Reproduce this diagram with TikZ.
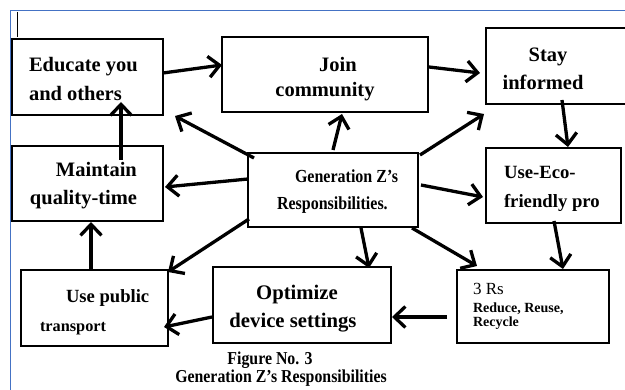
\documentclass[tikz,border=0pt]{standalone}
\usepackage{fontspec}
\setmainfont{Liberation Serif}
\newfontfamily\condfont[FakeStretch=0.87]{Liberation Serif}
\usetikzlibrary{arrows.meta,calc}
\definecolor{frameblue}{RGB}{68,114,196}
\newcommand{\fsz}[1]{\fontsize{#1}{#1}\selectfont}
\tikzset{
  box/.style={draw=black, line width=1.5pt, rectangle, inner sep=0pt, outer sep=0pt, anchor=north west},
  conn/.style={line width=3.3pt, -{Straight Barb[length=11pt,width=21pt]}},
  txt/.style={inner sep=0pt, outer sep=0pt, anchor=base west},
  ctxt/.style={inner sep=0pt, outer sep=0pt, anchor=base},
}
\begin{document}
\begin{tikzpicture}[x=1pt,y=-1pt]
\useasboundingbox (0,0) rectangle (625,390);
\fill[white] (0,0) rectangle (625,390);
% page frame and cursor
\draw[frameblue, line width=1.8pt] (10.5,400) -- (10.5,10.5) -- (640,10.5);
\draw[line width=1pt] (17,12) -- (17,37);

% boxes
\node[box, minimum width=151pt, minimum height=76pt] (edu) at (12,39) {};
\node[box, minimum width=206pt, minimum height=75pt] (join) at (222,37) {};
\node[box, minimum width=145pt, minimum height=76pt] (stay) at (486,28) {};
\node[box, minimum width=151pt, minimum height=75pt] (maint) at (12,146) {};
\node[box, minimum width=170pt, minimum height=74pt] (gen) at (248,153) {};
\node[box, minimum width=135pt, minimum height=75pt] (eco) at (486,148) {};
\node[box, minimum width=147pt, minimum height=76pt] (pub) at (21,270) {};
\node[box, minimum width=178pt, minimum height=76pt] (opt) at (213,267) {};
\node[box, minimum width=152pt, minimum height=73pt] (rs) at (457,270) {};

% texts
\node[txt, font={\fsz{20.5}\bfseries}] (edu1) at (29,72) {Educate you};
\node[txt, font={\fsz{20.5}\bfseries}] (edu2) at (29,101) {and others};
\node[ctxt, font={\fsz{20.5}\bfseries}] (join1) at (338,72) {Join};
\node[ctxt, font={\fsz{20.5}\bfseries}] (join2) at (325,97) {community};
\node[ctxt, font={\fsz{20.5}\bfseries}] (stay1) at (548,62) {Stay};
\node[ctxt, font={\fsz{20.5}\bfseries}] (stay2) at (543,90) {informed};
\node[txt, font={\fsz{20.5}\bfseries}] (maint1) at (56,177) {Maintain};
\node[txt, font={\fsz{20.5}\bfseries}] (maint2) at (30,205) {quality-time};
\node[txt, font={\condfont\fsz{18.4}\bfseries}] (gen1) at (295,183) {Generation Z’s};
\node[txt, font={\condfont\fsz{18.4}\bfseries}] (gen2) at (277,210) {Responsibilities.};
\node[txt, font={\fsz{18.7}\bfseries}] (eco1) at (504,179) {Use-Eco-};
\node[txt, font={\fsz{18.7}\bfseries}] (eco2) at (504,208) {friendly pro};
\node[txt, font={\fsz{17}}] (rs1) at (473,295) {3 Rs};
\node[txt, font={\fsz{14}\bfseries}] (rs2) at (473,313) {Reduce, Reuse,};
\node[txt, font={\fsz{14}\bfseries}] (rs3) at (473,327) {Recycle};
\node[txt, font={\fsz{18.6}\bfseries}] (pub1) at (66,303) {Use public};
\node[txt, font={\fsz{16.3}\bfseries}] (pub2) at (40,332) {transport};
\node[ctxt, font={\fsz{20.7}\bfseries}] (opt1) at (297,300) {Optimize};
\node[ctxt, font={\fsz{20.7}\bfseries}] (opt2) at (293,328) {device settings};
\node[ctxt, font={\condfont\fsz{18.2}\bfseries}] (cap1) at (270,365) {Figure No. 3};
\node[ctxt, font={\condfont\fsz{18.2}\bfseries}] (cap2) at (281,383) {Generation Z’s Responsibilities};

% connectors
\draw[conn] ($(edu.north east)+(0,34)$) -- ($(join.north west)+(0,28)$);
\draw[conn] ($(join.north east)+(1,30)$) -- ($(stay.north west)+(-6,45)$);
\draw[conn] ($(stay.north west)+(76,72)$) -- ($(eco.north west)+(82,-1)$);
\draw[conn] ($(eco.north west)+(68,73)$) -- ($(rs.north west)+(106,-1)$);
\draw[conn] ($(rs.north west)+(-10,47)$) -- ($(opt.north east)+(1,50)$);
\draw[conn] ($(opt.north west)+(-1,50)$) -- ($(pub.north east)+(-4,57)$);
\draw[conn] ($(pub.north west)+(70,0)$) -- ($(maint.south west)+(79,1)$);
\draw[conn] ($(maint.north west)+(109,14)$) -- ($(edu.north west)+(109,63)$);
\draw[conn] ($(gen.north west)+(6,5)$) -- ($(edu.south east)+(12,1)$);
\draw[conn] ($(gen.north west)+(85,-3)$) -- ($(join.south west)+(120,2)$);
\draw[conn] ($(gen.north east)+(2,2)$) -- ($(stay.south west)+(-2,10)$);
\draw[conn] ($(gen.north west)+(0,26)$) -- ($(maint.north east)+(2,41)$);
\draw[conn] ($(gen.north east)+(3,32)$) -- ($(eco.north west)+(-3,49)$);
\draw[conn] ($(gen.south west)+(1,-8)$) -- ($(pub.north east)+(0,2)$);
\draw[conn] ($(gen.south west)+(113,1)$) -- ($(opt.north west)+(156,1)$);
\draw[conn] ($(gen.south east)+(-6,1)$) -- ($(rs.north west)+(20,-4)$);
\end{tikzpicture}
\end{document}
